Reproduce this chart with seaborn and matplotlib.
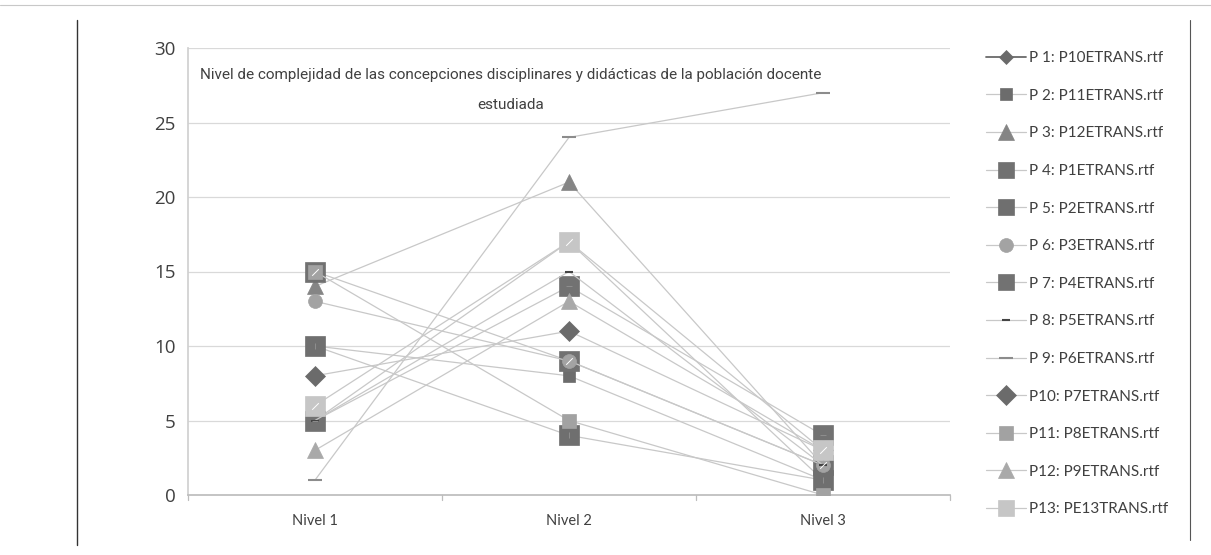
import matplotlib
matplotlib.use("Agg")
import matplotlib.pyplot as plt
from matplotlib.lines import Line2D
import seaborn as sns
import pandas as pd

levels = ["Nivel 1", "Nivel 2", "Nivel 3"]
series_names = [
    "P 1: P10ETRANS.rtf", "P 2: P11ETRANS.rtf", "P 3: P12ETRANS.rtf",
    "P 4: P1ETRANS.rtf", "P 5: P2ETRANS.rtf", "P 6: P3ETRANS.rtf",
    "P 7: P4ETRANS.rtf", "P 8: P5ETRANS.rtf", "P 9: P6ETRANS.rtf",
    "P10: P7ETRANS.rtf", "P11: P8ETRANS.rtf", "P12: P9ETRANS.rtf",
    "P13: PE13TRANS.rtf",
]
p1 = [5, 17, 1]
p2 = [10, 8, 1]
p3 = [14, 21, 2]
p4 = [15, 9, 2]
p5 = [10, 4, 1]
p6 = [13, 9, 2]
p7 = [5, 14, 4]
p8 = [5, 15, 2]
p9 = [1, 24, 27]
p10 = [8, 11, 3]
p11 = [15, 5, 0]
p12 = [3, 13, 3]
p13 = [6, 17, 3]
series_values = [p1, p2, p3, p4, p5, p6, p7, p8, p9, p10, p11, p12, p13]
yticks = [0, 5, 10, 15, 20, 25, 30]
title_text = ("Nivel de complejidad de las concepciones disciplinares y didácticas de la población docente\n"
              "estudiada")

# style per series: marker, size, face colour, inner mark, legend line colour
styles = [
    ("D", 7, "#6a6a6a", None, "#6a6a6a"),
    ("s", 8, "#6c6c6c", None, "#c8c8c8"),
    ("^", 11, "#858585", None, "#c8c8c8"),
    ("s", 14, "#717171", "/", "#c8c8c8"),
    ("s", 14, "#6f6f6f", "|", "#c8c8c8"),
    ("o", 10, "#a3a3a3", None, "#c8c8c8"),
    ("s", 14, "#727272", "-", "#c8c8c8"),
    ("_", 6, "#444444", None, "#c8c8c8"),
    ("_", 10, "#8c8c8c", None, "#c8c8c8"),
    ("D", 10, "#6b6b6b", None, "#c8c8c8"),
    ("s", 10, "#a2a2a2", None, "#c8c8c8"),
    ("^", 11, "#a9a9a9", None, "#c8c8c8"),
    ("s", 14, "#c6c6c6", "/", "#c8c8c8"),
]
line_color = "#c8c8c8"

sns.set_theme(style="white")
plt.rcParams["font.family"] = ["Lato", "DejaVu Sans"]

fig = plt.figure(figsize=(12.11, 5.55), dpi=100)
ax = fig.add_axes([188 / 1211, 1 - 495 / 555, 762 / 1211, (495 - 48) / 555])

slash = [(-0.5, -0.5), (0.5, 0.5)]
inner_marks = {"/": slash, "|": "|", "-": "_"}

handles = []
for name, vals, (mk, ms, fc, inner, lc) in zip(series_names, series_values, styles):
    df = pd.DataFrame({"level": levels, "value": vals})
    sns.lineplot(data=df, x="level", y="value", ax=ax, sort=False,
                 color=line_color, linewidth=0.9, marker=mk, markersize=ms,
                 markerfacecolor=fc, markeredgecolor=fc,
                 markeredgewidth=1.5 if mk == "_" else 0.5, zorder=3)
    if inner is not None:
        sns.scatterplot(data=df, x="level", y="value", ax=ax, marker=inner_marks[inner],
                        s=ms * 1.6, color="#8e8e8e" if fc != "#c6c6c6" else "#9a9a9a",
                        linewidth=0.7, zorder=4, legend=False)
    handles.append(Line2D([0], [0], color=lc,
                          linewidth=1.3 if lc != line_color else 0.9,
                          marker=mk, markersize=ms if ms < 12 else 12,
                          markerfacecolor=fc, markeredgecolor=fc,
                          markeredgewidth=1.5 if mk == "_" else 0.5))

ax.set_ylim(0, 30)
ax.set_xlim(-0.5, 2.5)
ax.set_yticks(yticks)
ax.set_yticklabels([str(v) for v in yticks], fontsize=13.5, color="#404040",
                   family=["Open Sans", "DejaVu Sans"])
ax.set_xticks(range(len(levels)))
ax.set_xticklabels(levels, fontsize=10.5, color="#404040")
ax.set_xlabel("")
ax.set_ylabel("")
ax.grid(axis="y", color="#d9d9d9", linewidth=0.9)
ax.grid(axis="x", visible=False)
for s in ["top", "right"]:
    ax.spines[s].set_visible(False)
ax.spines["left"].set_color("#d0d0d0")
ax.spines["bottom"].set_color("#bdbdbd")
ax.tick_params(axis="y", length=0, pad=9)
ax.tick_params(axis="x", length=0, pad=14)
# category boundary ticks
for xb in [-0.5, 0.5, 1.5, 2.5]:
    ax.plot([xb, xb], [0, -0.35], color="#bdbdbd", linewidth=0.9, clip_on=False)

ax.text(0.424, 0.955, title_text, transform=ax.transAxes, ha="center", va="top",
        fontsize=11, color="#404040", linespacing=2.4,
        family=["Roboto", "DejaVu Sans"])

leg = fig.legend(handles, series_names, loc="upper left",
                 bbox_to_anchor=(980 / 1211, 1 - 45 / 555), frameon=False,
                 fontsize=11, labelspacing=1.545, handlelength=2.6, handletextpad=0.2,
                 borderaxespad=0)
for t in leg.get_texts():
    t.set_color("#404040")

# surrounding frame lines
fig.add_artist(Line2D([0, 1], [1 - 5 / 555, 1 - 5 / 555], color="#c8c8c8", linewidth=0.8))
fig.add_artist(Line2D([77 / 1211, 77 / 1211], [1 - 20 / 555, 1 - 545 / 555], color="#333333", linewidth=1.0))
fig.add_artist(Line2D([1190 / 1211, 1190 / 1211], [1 - 20 / 555, 1 - 540 / 555], color="#555555", linewidth=0.8))

fig.savefig("out.png", dpi=100)
